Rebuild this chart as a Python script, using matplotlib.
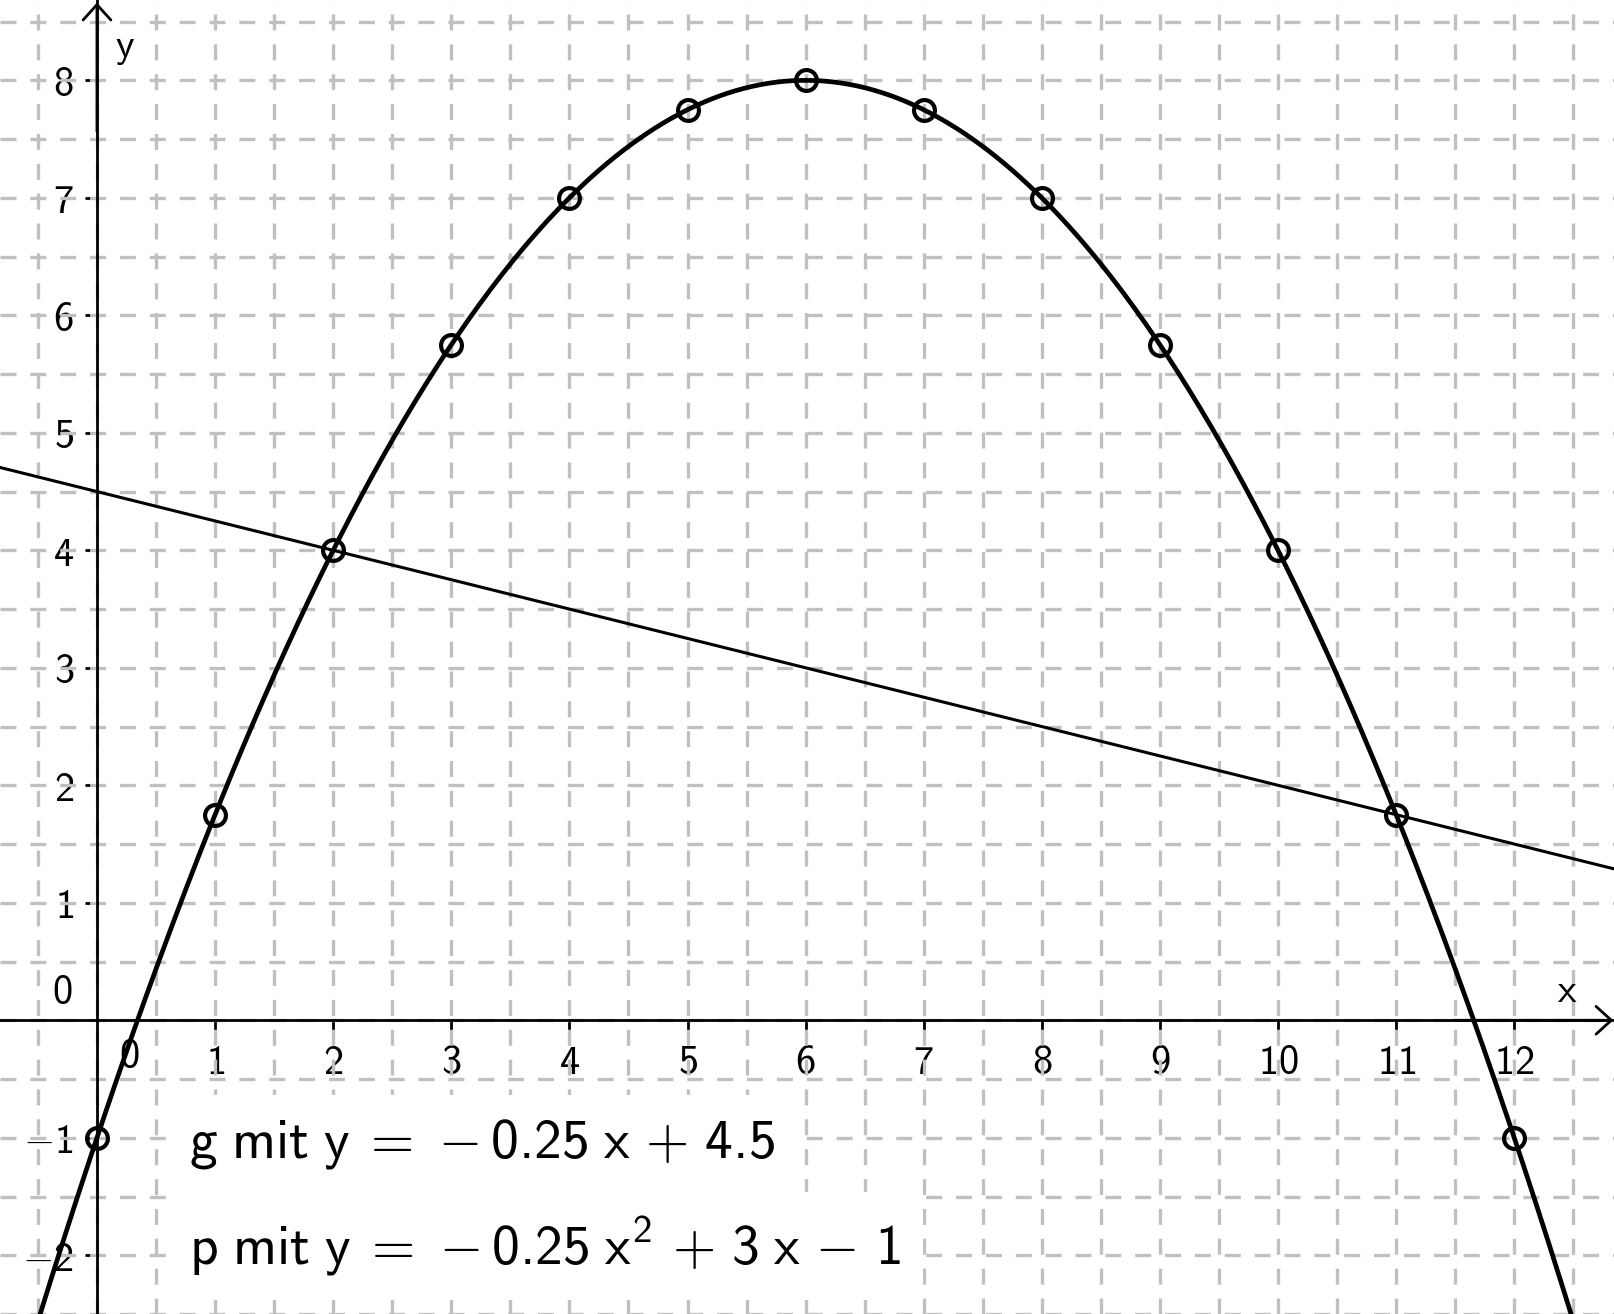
import numpy as np
import matplotlib
matplotlib.use('Agg')
import matplotlib.pyplot as plt

plt.rcParams['mathtext.fontset'] = 'custom'
plt.rcParams['mathtext.rm'] = 'cmss10'
plt.rcParams['mathtext.it'] = 'cmss10'
plt.rcParams['mathtext.sf'] = 'cmss10'
plt.rcParams['mathtext.default'] = 'rm'
plt.rcParams['mathtext.fallback'] = 'cm'
plt.rcParams['lines.scale_dashes'] = False

# points marked on the parabola
pts_x = [0, 1, 2, 3, 4, 5, 6, 7, 8, 9, 10, 11, 12]
pts_y = [-1, 1.75, 4, 5.75, 7, 7.75, 8, 7.75, 7, 5.75, 4, 1.75, -1]

# g: y = -0.25 x + 4.5 ; p: y = -0.25 x^2 + 3 x - 1
g_coef = [-0.25, 4.5]
p_coef = [-0.25, 3, -1]

x_ticks = [1, 2, 3, 4, 5, 6, 7, 8, 9, 10, 11, 12]
y_ticks = [-2, -1, 1, 2, 3, 4, 5, 6, 7, 8]

xlim = (-0.821, 12.853)
ylim = (-2.432, 8.684)

fig = plt.figure(figsize=(16.15, 13.14), dpi=100)
ax = fig.add_axes([0, 0, 1, 1])
ax.set_xlim(*xlim)
ax.set_ylim(*ylim)

# grid every 0.5
ax.set_xticks(np.arange(-0.5, 13.0, 0.5), minor=True)
ax.set_yticks(np.arange(-2.5, 9.0, 0.5), minor=True)
ax.xaxis.remove_overlapping_locs = False
ax.yaxis.remove_overlapping_locs = False
ax.grid(which='minor', color='#c0c0c0', lw=2.4, linestyle=(0, (11.5, 10)))
ax.tick_params(which='minor', length=0)

# axes through origin
for s in ['top', 'right']:
    ax.spines[s].set_visible(False)
ax.spines['left'].set_position(('data', 0))
ax.spines['bottom'].set_position(('data', 0))
ax.spines['left'].set_linewidth(2)
ax.spines['bottom'].set_linewidth(2)

ax.set_xticks(x_ticks)
ax.set_xticklabels([r'$%d$' % v for v in x_ticks])
ax.set_yticks(y_ticks)
ax.set_yticklabels([r'$%d$' % v for v in y_ticks])
ax.tick_params(which='major', direction='out', length=8.6, width=2, pad=8, labelsize=29)

ax.annotate('', xy=(0.999, 0), xytext=(0.9, 0), xycoords=('axes fraction', 'data'),
            textcoords=('axes fraction', 'data'),
            arrowprops=dict(arrowstyle='->,head_length=0.55,head_width=0.5', lw=2, mutation_scale=20, shrinkA=0, shrinkB=0))
ax.annotate('', xy=(0, 0.998), xytext=(0, 0.9), xycoords=('data', 'axes fraction'),
            textcoords=('data', 'axes fraction'),
            arrowprops=dict(arrowstyle='->,head_length=0.55,head_width=0.5', lw=2, mutation_scale=20, shrinkA=0, shrinkB=0))

# origin labels and axis names
ax.annotate(r'$0$', xy=(0, 0), xytext=(-24, 27), textcoords='offset pixels',
            ha='right', va='center', fontsize=29)
ax.annotate(r'$0$', xy=(0, 0), xytext=(32, -37), textcoords='offset pixels',
            ha='center', va='center', fontsize=29)
ax.text(0.152, 8.20, r'$y$', fontsize=29, ha='left', va='baseline')
ax.text(12.36, 0.157, r'$x$', fontsize=29, ha='left', va='baseline')

# curves
xs = np.linspace(xlim[0], xlim[1], 600)
ax.plot(xs, np.polyval(g_coef, xs), color='black', lw=2.2, zorder=3)
ax.plot(xs, np.polyval(p_coef, xs), color='black', lw=3.4, zorder=3)
ax.plot(pts_x, pts_y, 'o', ms=15, mfc='none', mec='black', mew=3, zorder=4)

box = dict(facecolor='white', edgecolor='none', pad=16)
ax.text(0.78, -1.172, r'$g\ mit\ y\;=\,-0.25\ x\,+\,4.5$',
        fontsize=40, ha='left', va='baseline', bbox=box, zorder=2.5)
ax.text(0.78, -2.077, r'$p\ mit\ y\;=\,-0.25\ x^2\,+\,3\ x\,-\,1$',
        fontsize=40, ha='left', va='baseline', bbox=box, zorder=2.5)

fig.savefig('out.png', dpi=100)
